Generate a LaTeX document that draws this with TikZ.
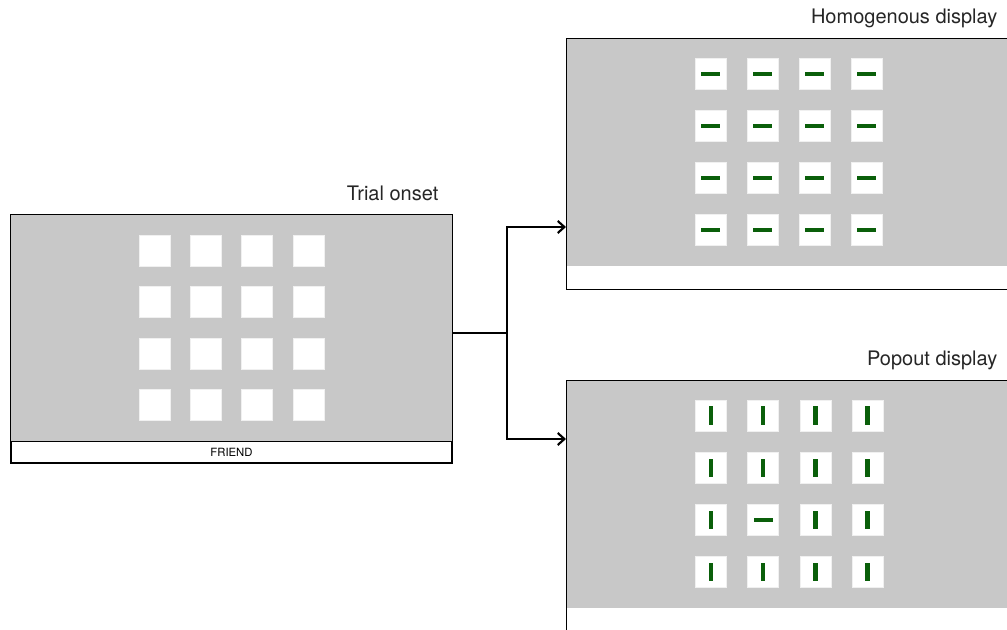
\documentclass[tikz,border=0pt]{standalone}
\usepackage{fontspec}
\setmainfont{TeX Gyre Heros}
\usepackage{xcolor}
\usepackage{tikz}
\usetikzlibrary{arrows.meta,positioning}
\definecolor{screengray}{RGB}{200,200,200}
\definecolor{bargreen}{RGB}{10,95,10}
\tikzset{
  screen/.style = {rectangle, fill=screengray, inner sep=0pt},
  frame/.style = {rectangle, draw, inner sep=0pt, line width=0.6pt},
  cell/.style = {rectangle, fill=white, draw=black!6, minimum size=23.25pt, inner sep=0pt},
  hbar/.style = {rectangle, fill=bargreen, minimum width=14pt, minimum height=3.2pt, inner sep=0pt},
  vbar/.style = {rectangle, fill=bargreen, minimum width=3.2pt, minimum height=14pt, inner sep=0pt},
  caption/.style = {font=\fontsize{15}{18}\selectfont, text=black!85}
}

\begin{document}
\begin{tikzpicture}[x = 0.75pt, y = -0.75pt]
    \clip (0,0) rectangle (1007,630);
    \node[screen, frame, fill=screengray, minimum width=331.5pt, minimum height=170.25pt] (onset) at (231,327.5) {};
    \node[frame, fill=white, line width=1.2pt, minimum width=330.5pt, minimum height=16pt, font=\fontsize{8.5}{10}\selectfont] (word) at (231.5,452.3) {FRIEND};
    \node[screen, minimum width=345pt, minimum height=171pt] (homog) at (796,152) {};
    \node[frame, minimum width=345pt, minimum height=188.25pt, below=0pt of homog.north] (homogframe) {};
    \node[screen, minimum width=345pt, minimum height=170.8pt] (pop) at (796,493.9) {};
    \node[frame, minimum width=345pt, minimum height=220pt, below=0pt of pop.north] (popframe) {};
    \foreach \i in {0,...,3}
      \foreach \j in {0,...,3}
        \node[cell] (onset-\i-\j) at ({154.5+51.3*\i},{250.5+51.4*\j}) {};
    \foreach \i in {0,...,3}
      \foreach \j in {0,...,3} {
        \node[cell] (homog-\i-\j) at ({710.5+52*\i},{73.8+52*\j}) {};
        \node[hbar] at (homog-\i-\j) {};
      }
    \foreach \i in {0,...,3}
      \foreach \j in {0,...,3} {
        \node[cell] (pop-\i-\j) at ({711+52.2*\i},{415.8+52.1*\j}) {};
        \ifnum\i\j=12 \def\barkind{hbar}\else\def\barkind{vbar}\fi
        \node[\barkind] at (pop-\i-\j) {};
      }
    \node[caption, anchor=base east] (onsettitle) at (443,201) {Trial onset};
    \node[caption, anchor=base east] (homogtitle) at (1002,24) {Homogenous display};
    \node[caption, anchor=base east] (poptitle) at (1002,366) {Popout display};
    \coordinate (split) at (507,333);
    \coordinate (homogin) at (566,227);
    \coordinate (popin) at (566,439);
    \draw[line width=1.6pt] (onset.east |- split) -- (split);
    \draw[->, >={Straight Barb[length=5pt, width=9pt]}, line width=1.6pt] (split) |- (homogin);
    \draw[->, >={Straight Barb[length=5pt, width=9pt]}, line width=1.6pt] (split) |- (popin);
\end{tikzpicture}
\end{document}
